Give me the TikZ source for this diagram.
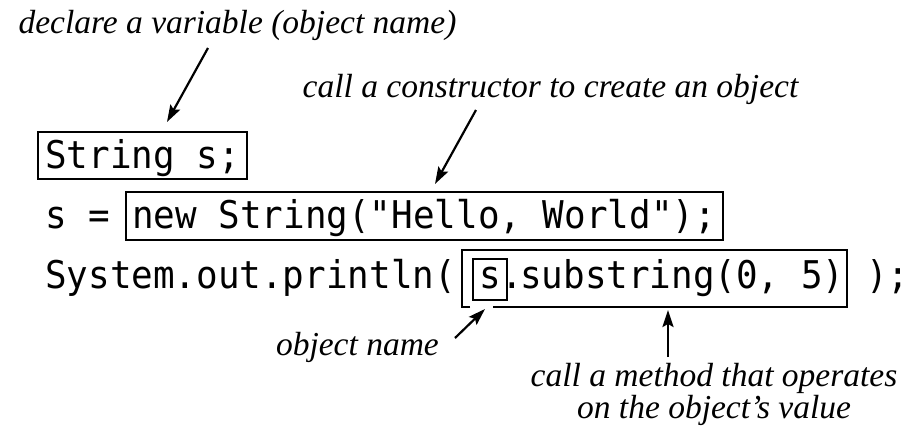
\documentclass[tikz,border=0pt]{standalone}
\usepackage{fontspec}
\setmainfont{Liberation Serif}
\setmonofont[FakeStretch=0.94]{DejaVu Sans Mono}
\usetikzlibrary{arrows.meta}
\tikzset{
  lbl/.style={font=\fontsize{33.5}{30}\selectfont\itshape, inner sep=0pt, anchor=base},
  code/.style={font=\fontsize{38.2}{40}\selectfont\ttfamily, inner sep=0pt, anchor=base west},
  frame/.style={draw, line width=1.8pt},
  arr/.style={line width=2.2pt, -{Stealth[length=17pt,width=11pt,inset=3pt]}},
}
\begin{document}
\begin{tikzpicture}[x=1pt,y=-1pt]
\path[use as bounding box] (0,0) rectangle (913,426);
% labels
\node[lbl] (decl) at (237.5,33) {declare a variable (object name)};
\node[lbl] (ctor) at (550.5,97) {call a constructor to create an object};
\node[lbl,anchor=base east] (objname) at (439,355) {object name};
\node[lbl,align=center] (method) at (714,418) {call a method that operates\\on the object’s value};
% code line 1
\node[code] (l1) at (45,168) {String s;};
\draw[frame] (38,132) rectangle (247,179);
% code line 2
\node[code] (l2a) at (45,228) {s =};
\node[code] (l2b) at (132,228) {new String("Hello, World");};
\draw[frame] (126,192) rectangle (723,240);
% code line 3
\node[code] (l3a) at (45,288) {System.out.println(};
\node[code,anchor=base] (l3s) at (490,288) {s};
\node[code,anchor=base] (l3dot) at (512,288) {.};
\node[code] (l3sub) at (520,288) {substring(0, 5)};
\node[code] (l3end) at (866,288) {);};
\draw[frame] (473,259) rectangle (507,300);
\draw[frame] (470,307) -- (462,307) -- (462,250) -- (847,250) -- (847,307) -- (493,307);
% arrows
\coordinate (a1s) at (208,48);  \coordinate (a1e) at (167,122);
\coordinate (a2s) at (476,110); \coordinate (a2e) at (435,184);
\coordinate (a3s) at (455,338); \coordinate (a3e) at (485,309);
\coordinate (a4s) at (668,357); \coordinate (a4e) at (668,310);
\draw[arr] (a1s) -- (a1e);
\draw[arr] (a2s) -- (a2e);
\draw[arr] (a3s) -- (a3e);
\draw[arr] (a4s) -- (a4e);
\end{tikzpicture}
\end{document}
